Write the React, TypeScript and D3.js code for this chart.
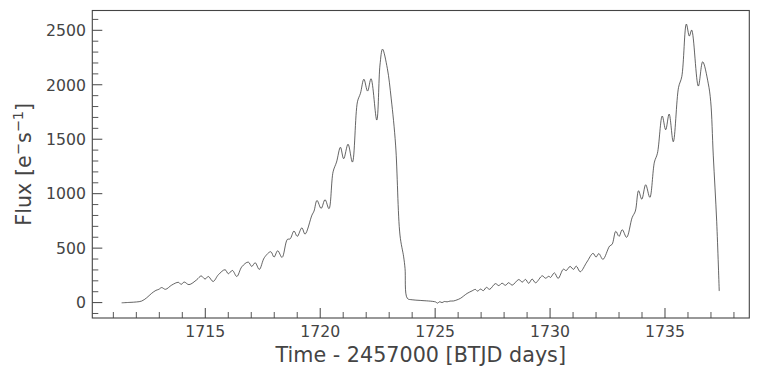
import React from "react";
import * as d3 from "d3";

const times: number[] = [
  1711.36, 1711.72, 1712.01, 1712.23, 1712.45, 1712.66, 1712.85, 1712.98, 1713.1, 1713.27,
  1713.54, 1713.83, 1713.95, 1714.08, 1714.29, 1714.63, 1714.82, 1714.99, 1715.13, 1715.34,
  1715.57, 1715.86, 1716.0, 1716.18, 1716.37, 1716.59, 1716.87, 1717.02, 1717.17, 1717.35,
  1717.57, 1717.85, 1717.99, 1718.15, 1718.34, 1718.57, 1718.69, 1718.86, 1719.0, 1719.2,
  1719.34, 1719.64, 1719.73, 1719.86, 1720.04, 1720.21, 1720.38, 1720.56, 1720.71, 1720.88,
  1721.02, 1721.21, 1721.4, 1721.62, 1721.75, 1721.9, 1722.06, 1722.21, 1722.46, 1722.6,
  1722.71, 1722.92, 1723.09, 1723.28, 1723.47, 1723.63, 1723.69, 1723.79, 1724.0, 1724.35,
  1725.02, 1725.1, 1725.2, 1725.3, 1725.4, 1725.52, 1725.65, 1725.8, 1725.95, 1726.1,
  1726.39, 1726.61, 1726.75, 1726.85, 1726.97, 1727.1, 1727.23, 1727.37, 1727.62, 1727.77,
  1727.91, 1728.06, 1728.2, 1728.35, 1728.64, 1728.79, 1728.93, 1729.07, 1729.22, 1729.37,
  1729.66, 1729.8, 1729.95, 1730.02, 1730.19, 1730.35, 1730.58, 1730.7, 1730.87, 1731.02,
  1731.14, 1731.31, 1731.6, 1731.87, 1732.0, 1732.12, 1732.3, 1732.59, 1732.7, 1732.86,
  1733.0, 1733.14, 1733.33, 1733.57, 1733.71, 1733.85, 1733.99, 1734.16, 1734.34, 1734.54,
  1734.67, 1734.88, 1735.03, 1735.18, 1735.36, 1735.59, 1735.73, 1735.93, 1736.06, 1736.16,
  1736.45, 1736.64, 1736.88, 1736.99, 1737.1, 1737.25, 1737.36,
];

const flux: number[] = [
  -2, 2, 6, 14, 44, 84, 112, 122, 138, 122,
  161, 186, 167, 189, 165, 210, 245, 216, 240, 194,
  256, 302, 265, 295, 240, 329, 372, 332, 366, 305,
  413, 467, 418, 476, 415, 580, 585, 657, 608, 686,
  629, 803, 840, 938, 865, 945, 862, 1201, 1290, 1426,
  1321, 1454, 1290, 1844, 1921, 2051, 1942, 2055, 1676, 2181,
  2327, 2150, 1870, 1446, 620, 420, 314, 39, 26, 20,
  6, -5, 8, 0, 10, 7, 14, 15, 25, 39,
  84, 108, 121, 105, 124, 110, 140, 122, 174, 156,
  178, 159, 183, 160, 212, 188, 213, 177, 216, 182,
  246, 224, 242, 231, 273, 222, 307, 294, 332, 305,
  335, 283, 372, 452, 418, 450, 397, 519, 535, 655,
  608, 669, 599, 780, 840, 1027, 949, 1082, 966, 1290,
  1370, 1713, 1587, 1731, 1477, 1976, 2074, 2557, 2447, 2502,
  1988, 2211, 2015, 1844, 1354, 742, 106,
];

const xMajorTicks: number[] = [1715, 1720, 1725, 1730, 1735];
const yMajorTicks: number[] = [0, 500, 1000, 1500, 2000, 2500];

const W = 759;
const H = 376;
const L = 92.3;
const R = 749.3;
const T = 10.5;
const B = 318;
const FG = "#444444";
const FONT = "DejaVu Sans, sans-serif";

export default function App() {
  const x = d3.scaleLinear().domain([1710.084, 1738.668]).range([L, R]);
  const y = d3.scaleLinear().domain([-141.4, 2681.8]).range([B, T]);

  const pts: [number, number][] = times.map((t, i) => [t, flux[i]]);
  const line = d3
    .line<[number, number]>()
    .x((d) => x(d[0]))
    .y((d) => y(d[1]))
    .curve(d3.curveCatmullRom.alpha(0.5));

  const xMinor = d3.range(1711, 1739, 1).filter((v) => v % 5 !== 0);
  const yMinor = d3.range(-100, 2700, 100).filter((v) => v % 500 !== 0);

  return (
    <svg
      width={W}
      height={H}
      style={{ position: "absolute", left: 0, top: 0, background: "#fff" }}
      fontFamily={FONT}
    >
      <rect x={0} y={0} width={W} height={H} fill="#fff" />
      <path d={line(pts) || ""} fill="none" stroke="#222" strokeWidth={0.7} />

      {xMajorTicks.map((v) => (
        <g key={"xM" + v}>
          <line x1={x(v)} x2={x(v)} y1={B} y2={B - 10} stroke={FG} strokeWidth={1} />
          <text x={x(v)} y={337.3} textAnchor="middle" fontSize={15.7} fill={FG}>
            {v}
          </text>
        </g>
      ))}
      {xMinor.map((v) => (
        <line key={"xm" + v} x1={x(v)} x2={x(v)} y1={B} y2={B - 6} stroke={FG} strokeWidth={0.9} />
      ))}
      {yMajorTicks.map((v) => (
        <g key={"yM" + v}>
          <line x1={L} x2={L + 10} y1={y(v)} y2={y(v)} stroke={FG} strokeWidth={1} />
          <text x={86} y={y(v) + 5.8} textAnchor="end" fontSize={15.7} fill={FG}>
            {v}
          </text>
        </g>
      ))}
      {yMinor.map((v) => (
        <line key={"ym" + v} x1={L} x2={L + 6} y1={y(v)} y2={y(v)} stroke={FG} strokeWidth={0.9} />
      ))}

      <rect x={L} y={T} width={R - L} height={B - T} fill="none" stroke={FG} strokeWidth={1.1} />

      <text x={(L + R) / 2} y={361.7} textAnchor="middle" fontSize={20.7} fill={FG}>
        Time - 2457000 [BTJD days]
      </text>
      <text transform={`translate(30.5,${(T + B) / 2}) rotate(-90)`} textAnchor="middle" fontSize={20.7} fill={FG}>
        Flux [e
        <tspan dy={-8} fontSize={14.5}>−</tspan>
        <tspan dy={8}>s</tspan>
        <tspan dy={-8} fontSize={14.5}>−1</tspan>
        <tspan dy={8}>]</tspan>
      </text>
    </svg>
  );
}
